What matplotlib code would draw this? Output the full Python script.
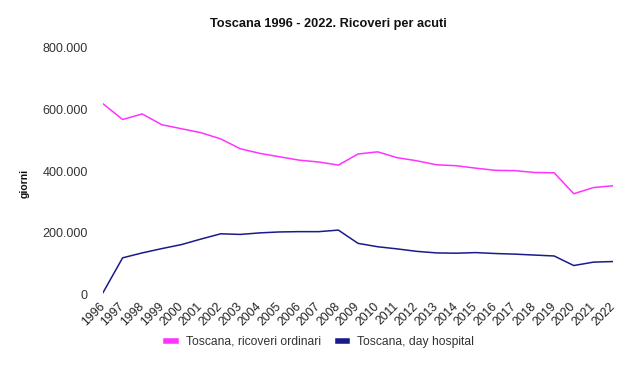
import matplotlib
matplotlib.use("Agg")
import matplotlib.pyplot as plt
from matplotlib.ticker import FuncFormatter
import matplotlib.transforms as mtransforms

plt.rcParams['font.family'] = ['Liberation Sans', 'DejaVu Sans']

years = list(range(1996, 2023))
ricoveri_ordinari = [619000, 568000, 586000, 551000, 538000, 525000, 505000, 473000, 458000,
                     447000, 436000, 430000, 420000, 456000, 463000, 444000, 434000, 421000,
                     418000, 410000, 403000, 402000, 396000, 395000, 327000, 347000, 353000]
day_hospital = [6000, 119000, 135000, 149000, 162000, 180000, 197000, 195000, 200000,
                203000, 204000, 204000, 209000, 166000, 155000, 148000, 140000, 135000,
                134000, 136000, 133000, 131000, 128000, 125000, 94000, 105000, 107000]
yticks = [0, 200000, 400000, 600000, 800000]
labels = ["Toscana, ricoveri ordinari", "Toscana, day hospital"]
colors = ["#ff33ff", "#1a1a8c"]

W, H = 642, 367
fig = plt.figure(figsize=(W / 100, H / 100), dpi=100)
ax = fig.add_axes([103 / W, 1 - 294.5 / H, (613 - 103) / W, (294.5 - 48) / H])

ax.plot(years, ricoveri_ordinari, color=colors[0], lw=1.1, label=labels[0])
ax.plot(years, day_hospital, color=colors[1], lw=1.1, label=labels[1])

ax.set_xlim(years[0], years[-1])
ax.set_ylim(0, 800000)
ax.set_yticks(yticks)
ax.yaxis.set_major_formatter(FuncFormatter(lambda v, p: "0" if v == 0 else f"{int(v):,}".replace(",", ".")))
ax.set_xticks(years)
ax.set_xticklabels([str(y) for y in years], rotation=45, ha='right', va='center',
                   rotation_mode='anchor', fontsize=8.7, color='#222222')
offset = mtransforms.ScaledTranslation(8 / 100, 0, fig.dpi_scale_trans)
for lab in ax.get_xticklabels():
    lab.set_transform(lab.get_transform() + offset)
ax.tick_params(axis='x', length=0, pad=7)
ax.tick_params(axis='y', length=0, pad=11, labelsize=9, labelcolor='#333333')
for s in ax.spines.values():
    s.set_visible(False)

fig.text(328 / W, 1 - 24 / H, "Toscana 1996 - 2022. Ricoveri per acuti", ha='center', va='center',
         fontsize=9.2, fontweight='bold', color='#111111')
fig.text(25 / W, 1 - 183 / H, "giorni", rotation=90, ha='center', va='center',
         fontsize=7.5, fontweight='bold', color='#111111')

leg = fig.legend(loc='center', bbox_to_anchor=(320 / W, 1 - 342 / H), ncol=2, frameon=False,
                 fontsize=8.7, handlelength=0.8, handletextpad=0.8, columnspacing=1.4)
for h in leg.get_lines():
    h.set_linewidth(4)
for t in leg.get_texts():
    t.set_color('#333333')

fig.savefig("out.png", dpi=100)
